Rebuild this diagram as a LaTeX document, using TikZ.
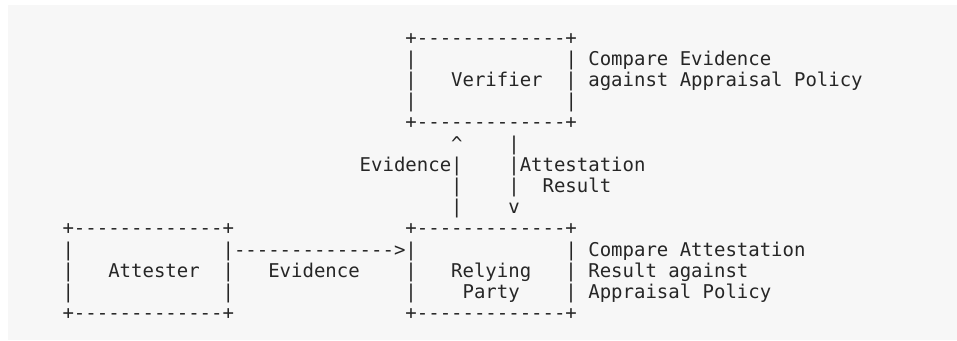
\documentclass[tikz,border=0pt]{standalone}
\usepackage{fontspec}
\setmonofont{DejaVu Sans Mono}
\usepackage{xcolor}
\usetikzlibrary{positioning}
\definecolor{panel}{HTML}{F7F7F7}
\tikzset{
  ascii/.style={anchor=base west,inner sep=0pt,text=black!85,
    font=\ttfamily\fontsize{14.24pt}{15.9pt}\selectfont},
}

\begin{document}
\begin{tikzpicture}[x=0.75pt,y=-0.75pt]
\useasboundingbox (0,0) rectangle (957,340);
\fill[panel] (8,5) rectangle (957,340);
% one unit = one character cell of the ascii grid
\begin{scope}[shift={(62.3,44)},x=8.5725pt,y=-15.9pt]
% verifier box
\foreach \ln [count=\i from 0] in {+-------------+,|~~~~~~~~~~~~~|,|~~~Verifier~~|,|~~~~~~~~~~~~~|,+-------------+}
  \node[ascii] (ver\i) at (30,\i) {\ln};
\node[ascii] (vnote1) at (46,1) {Compare Evidence};
\node[ascii] (vnote2) at (46,2) {against Appraisal Policy};
% vertical arrows
\foreach \ln [count=\i from 5] in {\textasciicircum,|,|,|}
  \node[ascii] (up\i) at (34,\i) {\ln};
\foreach \ln [count=\i from 5] in {|,|,|,v}
  \node[ascii] (down\i) at (39,\i) {\ln};
\node[ascii] (evup) at (26,6) {Evidence};
\node[ascii] (res1) at (40,6) {Attestation};
\node[ascii] (res2) at (42,7) {Result};
% attester and relying party
\foreach \ln [count=\i from 9] in {+-------------+,|~~~~~~~~~~~~~|,|~~~Attester~~|,|~~~~~~~~~~~~~|,+-------------+}
  \node[ascii] (att\i) at (0,\i) {\ln};
\foreach \ln [count=\i from 9] in {+-------------+,|~~~~~~~~~~~~~|,|~~~Relying~~~|,|~~~~Party~~~~|,+-------------+}
  \node[ascii] (rp\i) at (30,\i) {\ln};
\node[ascii] (evarrow) at (15,10) {-------------->};
\node[ascii] (evright) at (18,11) {Evidence};
\node[ascii] (rnote1) at (46,10) {Compare Attestation};
\node[ascii] (rnote2) at (46,11) {Result against};
\node[ascii] (rnote3) at (46,12) {Appraisal Policy};
\end{scope}
\end{tikzpicture}
\end{document}
